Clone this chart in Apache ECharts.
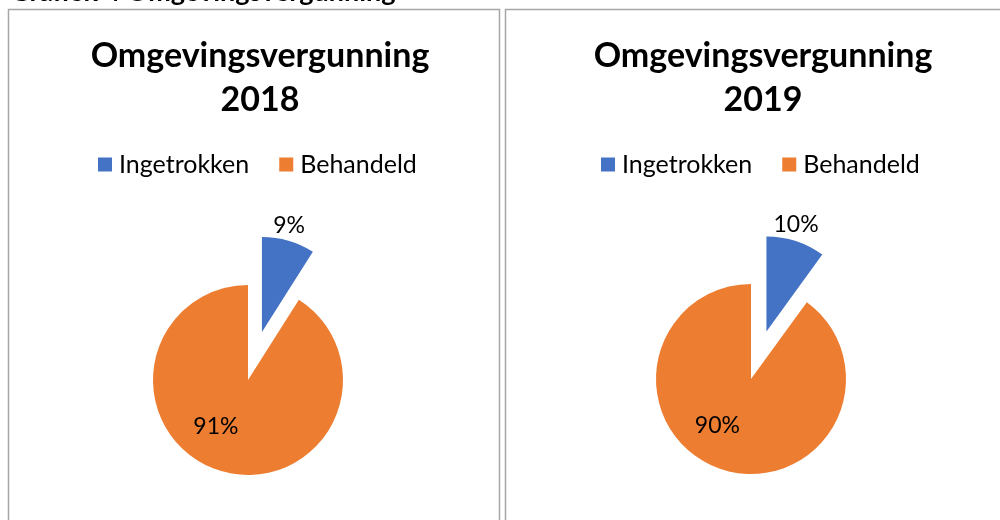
<!DOCTYPE html>
<html>
<head>
<meta charset="utf-8">
<script src="https://cdn.jsdelivr.net/npm/echarts@6/dist/echarts.min.js"></script>
<style>
  html, body { margin: 0; padding: 0; background: #fff; }
  #chart { width: 1000px; height: 520px; }
</style>
</head>
<body>
<div id="chart"></div>
<script>
// data
var categories = ["Ingetrokken", "Behandeld"];
var years = ["2018", "2019"];
var values2018 = [9, 91];
var values2019 = [10, 90];

var blue = "#4472C4";
var orange = "#ED7D31";
var font = "Lato";

var chart = echarts.init(document.getElementById("chart"));

// label shifts [series][dataIndex], to mimic Excel's "best fit" placement
var labelShift = [
  [[13, -58], [-18, -2]],
  [[14, -59], [-18, -1]]
];

function pieSeries(values, center) {
  return {
    type: "pie",
    center: center,
    radius: 95,
    startAngle: 90,
    clockwise: true,
    selectedMode: "single",
    selectedOffset: 50,
    avoidLabelOverlap: false,
    itemStyle: { borderWidth: 0 },
    select: { itemStyle: { borderWidth: 0 } },
    emphasis: { scale: false },
    label: {
      show: true,
      position: "inside",
      formatter: "{c}%",
      color: "#000",
      fontFamily: font,
      fontSize: 23
    },
    labelLine: { show: false },
    labelLayout: function(params) {
      var s = labelShift[params.seriesIndex][params.dataIndex];
      return { dx: s[0], dy: s[1] };
    },
    data: [
      { name: categories[0], value: values[0], selected: true, itemStyle: { color: blue } },
      { name: categories[1], value: values[1], itemStyle: { color: orange } }
    ]
  };
}

function legend(left) {
  return {
    data: categories,
    left: left,
    top: 152,
    padding: 0,
    icon: "rect",
    itemWidth: 14,
    itemHeight: 14,
    itemGap: 30,
    selectedMode: false,
    textStyle: { color: "#000", fontFamily: font, fontSize: 25, padding: [0, 0, 0, 2] }
  };
}

function title(text, left) {
  return {
    text: "Omgevingsvergunning\n" + text,
    left: left,
    top: 29,
    textAlign: "center",
    textStyle: {
      color: "#000",
      fontFamily: font,
      fontWeight: "bold",
      fontSize: 34,
      lineHeight: 44
    }
  };
}

var option = {
  animation: false,
  backgroundColor: "#fff",
  title: [title(years[0], 255), title(years[1], 758)],
  legend: [legend(98), legend(601)],
  graphic: [
    {
      type: "text",
      x: 10,
      y: 6,
      style: {
        text: "Grafiek 4 Omgevingsvergunning",
        font: "bold 27px " + font,
        fill: "#000",
        verticalAlign: "bottom"
      }
    },
    {
      type: "rect",
      shape: { x: 8.5, y: 9.5, width: 491, height: 600 },
      style: { fill: "none", stroke: "#a6a6a6", lineWidth: 1.5 }
    },
    {
      type: "rect",
      shape: { x: 505.5, y: 9.5, width: 520, height: 600 },
      style: { fill: "none", stroke: "#a6a6a6", lineWidth: 1.5 }
    }
  ],
  series: [
    pieSeries(values2018, [248, 380]),
    pieSeries(values2019, [751, 379])
  ]
};

chart.setOption(option);
</script>
</body>
</html>
